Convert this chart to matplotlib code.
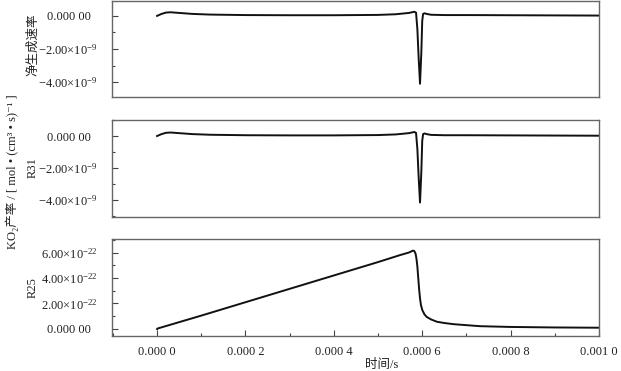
import matplotlib
matplotlib.use("Agg")
import matplotlib.pyplot as plt
from matplotlib.ticker import FixedLocator, FixedFormatter, MultipleLocator

plt.rcParams['mathtext.fontset'] = 'custom'
plt.rcParams['mathtext.rm'] = 'Liberation Serif'
plt.rcParams['mathtext.it'] = 'Liberation Serif:italic'
plt.rcParams['mathtext.bf'] = 'Liberation Serif:bold'
plt.rcParams['font.family'] = ['Liberation Serif', 'Noto Sans CJK SC', 'DejaVu Serif']

# ---- data (time in s) ----
t_net = [0.0, 0.000005, 0.00001, 0.00002, 0.00003, 0.00005, 0.00008, 0.00012, 0.0002,
         0.0003, 0.0004, 0.0005, 0.00054, 0.00057, 0.000582, 0.000586, 0.000589,
         0.000592, 0.000595, 0.000598, 0.0006, 0.000602, 0.000605, 0.00061, 0.00062,
         0.00065, 0.0007, 0.0008, 0.0009, 0.001]
net_rate = [0.0, 0.06e-9, 0.12e-9, 0.2e-9, 0.22e-9, 0.18e-9, 0.12e-9, 0.08e-9, 0.05e-9,
            0.04e-9, 0.04e-9, 0.06e-9, 0.1e-9, 0.18e-9, 0.25e-9, 0.2e-9, -0.8e-9,
            -2.6e-9, -4.1e-9, -2.2e-9, -0.3e-9, 0.12e-9, 0.16e-9, 0.12e-9, 0.07e-9,
            0.05e-9, 0.05e-9, 0.04e-9, 0.03e-9, 0.02e-9]

t_r31 = [0.0, 0.000005, 0.00001, 0.00002, 0.00003, 0.00005, 0.00008, 0.00012, 0.0002,
         0.0003, 0.0004, 0.0005, 0.00054, 0.00057, 0.000582, 0.000586, 0.000589,
         0.000592, 0.000595, 0.000598, 0.0006, 0.000602, 0.000605, 0.00061, 0.00062,
         0.00065, 0.0007, 0.0008, 0.0009, 0.001]
r31_rate = [0.0, 0.06e-9, 0.12e-9, 0.2e-9, 0.22e-9, 0.18e-9, 0.12e-9, 0.08e-9, 0.05e-9,
            0.04e-9, 0.04e-9, 0.06e-9, 0.1e-9, 0.18e-9, 0.25e-9, 0.2e-9, -0.8e-9,
            -2.6e-9, -4.15e-9, -2.2e-9, -0.3e-9, 0.12e-9, 0.16e-9, 0.12e-9, 0.07e-9,
            0.05e-9, 0.05e-9, 0.04e-9, 0.03e-9, 0.02e-9]

t_r25 = [0.0, 0.0000005, 0.0001, 0.0002, 0.0003, 0.0004, 0.0005, 0.00055, 0.00057,
         0.000575, 0.000579, 0.000582, 0.000585, 0.000587, 0.000589, 0.000591,
         0.000593, 0.000595, 0.000597, 0.0006, 0.000605, 0.00061, 0.00062,
         0.000633, 0.00065, 0.00067, 0.0007, 0.000731, 0.0008, 0.0009, 0.001]
r25_rate = [0.0, 0.03e-22, 1.05e-22, 2.1e-22, 3.15e-22, 4.2e-22, 5.25e-22, 5.8e-22, 6.0e-22,
            6.08e-22, 6.15e-22, 6.12e-22, 5.9e-22, 5.5e-22, 4.9e-22, 4.0e-22,
            3.1e-22, 2.4e-22, 1.9e-22, 1.5e-22, 1.15e-22, 0.95e-22, 0.75e-22,
            0.57e-22, 0.47e-22, 0.38e-22, 0.3e-22, 0.22e-22, 0.16e-22, 0.12e-22, 0.1e-22]

x_ticks = [0.0, 0.0002, 0.0004, 0.0006, 0.0008, 0.001]
x_ticklabels = ["0.000 0", "0.000 2", "0.000 4", "0.000 6", "0.000 8", "0.001 0"]
y_ticks_rate = [0.0, -2e-9, -4e-9]
y_ticklabels_rate = ["0.000 00  ", r"$-2.00{\times}10^{-9}$", r"$-4.00{\times}10^{-9}$"]
y_ticks_r25 = [0.0, 2e-22, 4e-22, 6e-22]
y_ticklabels_r25 = ["0.000 00  ", r"$2.00{\times}10^{-22}$", r"$4.00{\times}10^{-22}$", r"$6.00{\times}10^{-22}$"]
panel_labels = ["净生成速率", "R31", "R25"]
ylabel = "KO₂产率 / [ mol • (cm³ • s)⁻¹ ]"
xlabel = "时间/s"

W, H = 621, 371
fig = plt.figure(figsize=(W / 100, H / 100), dpi=100)

def rect(top, bottom):
    return [112 / W, 1 - bottom / H, (599 - 112) / W, (bottom - top) / H]

ax1 = fig.add_axes(rect(1, 97))
ax2 = fig.add_axes(rect(120, 217))
ax3 = fig.add_axes(rect(239, 336))

line_kw = dict(color="#111111", lw=1.4)
ax1.plot(t_net, net_rate, **line_kw)
ax2.plot(t_r31, r31_rate, **line_kw)
ax3.plot(t_r25, r25_rate, **line_kw)

ax1.set_ylim(-4.9e-9, 0.9e-9)
ax2.set_ylim(-5.05e-9, 1.0e-9)
ax3.set_ylim(-0.55e-22, 7.06e-22)

fs = 9
for ax in (ax1, ax2, ax3):
    ax.set_xlim(-0.000102, 0.001)
    for s in ax.spines.values():
        s.set_color("#666666")
        s.set_linewidth(1.0)
    ax.tick_params(axis="both", which="both", direction="in", colors="#444444",
                   labelcolor="#222222", labelsize=fs, width=0.8)
    ax.tick_params(which="major", length=4.5)
    ax.tick_params(which="minor", length=2.5)
    ax.tick_params(axis="y", pad=10.5)

for ax in (ax1, ax2):
    ax.xaxis.set_major_locator(FixedLocator(x_ticks))
    ax.tick_params(axis="x", which="both", bottom=False, labelbottom=False)
    ax.yaxis.set_major_locator(FixedLocator(y_ticks_rate))
    ax.yaxis.set_major_formatter(FixedFormatter(y_ticklabels_rate))
    ax.yaxis.set_minor_locator(MultipleLocator(1e-9))

ax3.xaxis.set_major_locator(FixedLocator(x_ticks))
ax3.xaxis.set_major_formatter(FixedFormatter(x_ticklabels))
ax3.xaxis.set_minor_locator(MultipleLocator(0.0001))
ax3.tick_params(axis="x", pad=7)
ax3.yaxis.set_major_locator(FixedLocator(y_ticks_r25))
ax3.yaxis.set_major_formatter(FixedFormatter(y_ticklabels_r25))
ax3.yaxis.set_minor_locator(MultipleLocator(1e-22))

for ax in (ax1, ax2, ax3):
    for lab in ax.get_yticklabels() + ax.get_xticklabels():
        lab.set_fontsize(fs)

fig.text(382 / W, 1 - 365 / H, xlabel, ha="center", va="center",
         fontsize=fs, color="#222222")

label_y = [45, 168, 288]
for txt, yy in zip(panel_labels, label_y):
    fig.text(33 / W, 1 - yy / H, txt, rotation=90, ha="center", va="center",
             fontsize=fs, color="#222222")

fig.text(12 / W, 1 - 172 / H, ylabel, rotation=90, ha="center", va="center",
         fontsize=fs, color="#222222")

fig.savefig("out.png", dpi=100)
